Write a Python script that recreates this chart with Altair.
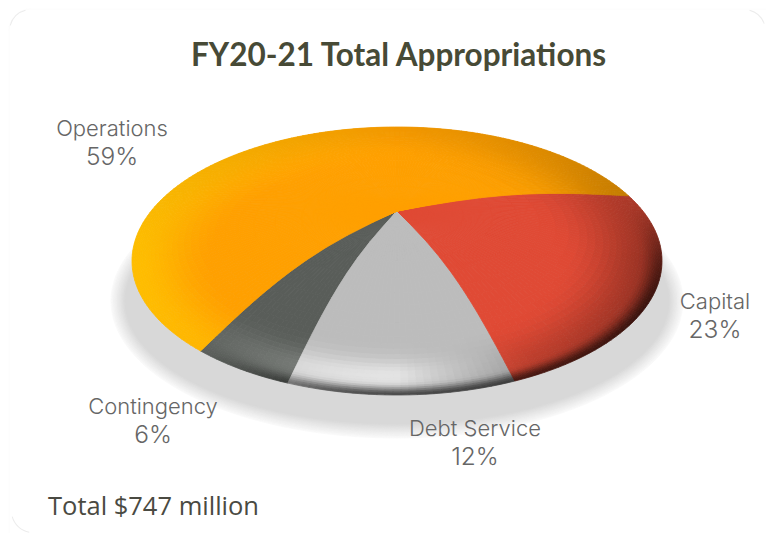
import math
import altair as alt
import numpy as np
import pandas as pd

alt.data_transformers.disable_max_rows()

# Budget shares, listed in screen order around the front of the pie
categories = ["Contingency", "Debt Service", "Capital", "Operations"]
shares = [6, 12, 23, 59]
base_colors = [(89, 93, 89), (188, 188, 188), (224, 74, 53), (255, 160, 0)]
title_text = "FY20-21 Total Appropriations"
total_text = "Total $747 million"
label_x = [153, 475, 715, 112]
label_y = [414, 436, 309, 136]

W, H = 766, 533
CX, CY, RX, RY = 397.0, 261.0, 265.0, 134.0
AX, AY = 397.0, 211.0
RINGS = [0, .12, .25, .36, .46, .54, .60, .65, .69, .72, .75, .78, .805, .83, .85, .87, .885, .90, .915,
         .93, .94, .95, .96, .968, .976, .984, .992, 1.0]
STEP = 1.5


def smooth(a, b, v):
    u = min(max((v - a) / (b - a), 0.0), 1.0)
    return u * u * (3 - 2 * u)


def rim_angle(theta):
    """Turn a disc angle (0 = front) into the angle on the tilted ellipse."""
    th = (theta + 180.0) % 360.0 - 180.0
    k = np.interp(th, [-180, -43.2, -21.6, 21.6, 104.4, 180], [1.2, 1.12, 1.13, 1.23, 1.32, 1.2])
    r = math.radians(th)
    return 2 * math.atan2(k * math.sin(r / 2), math.cos(r / 2))


def project(t, theta):
    phi = rim_angle(theta)
    rx, ry = CX + RX * math.sin(phi), CY + RY * math.cos(phi)
    dome = (11.5 + 6 * math.cos(phi)) * math.sin(math.pi * t)
    return AX + (rx - AX) * t, AY + (ry - AY) * t - dome


def shade(base, x, y):
    """Colour of the bevelled surface at a screen position."""
    nxr, nyr = (x - CX) / RX, (y - CY) / RY
    rho = max(math.hypot(nxr, nyr), 1e-6)
    nx, ny = nxr / rho, nyr / rho
    d = 0.55 * nx + 0.85 * ny
    rim = smooth(0.90, 1.0, rho) ** 1.4 * smooth(0.1, 0.85, d)
    side = max(nx, 0) * smooth(0.62, 1.0, rho) * 0.34 * (1 - 0.6 * max(-ny, 0))
    top = max(-ny, 0) * smooth(0.78, 1.0, rho) * 0.05
    keep = (1 - 0.62 * rim) * (1 - side) * (1 - top)
    bump = math.exp(-((rho - 0.86) / 0.12) ** 2) * max(ny, 0) ** 3
    glow = 40 * bump * max(1 - 1.7 * max(nx, 0), 0) * (1 - 0.3 * max(nx, 0))
    warm = 30 * smooth(0.68, 1.0, rho) * max(-nx, 0)
    r, g, b = base
    is_orange = base[2] == 0
    out = (
        (r + glow) * keep,
        (g + (warm if is_orange else glow)) * keep,
        (b + (0 if is_orange else glow)) * keep,
    )
    return "#%02x%02x%02x" % tuple(int(min(max(c, 0), 255)) for c in out)


# Surface mesh: every slice spans the angle its share gives it
rows = []
cell = 0
start = -(shares[0] + shares[1] / 2) * 3.6
for name, share, base in zip(categories, shares, base_colors):
    end = start + share * 3.6
    n = max(int(round((end - start) / STEP)), 1)
    angles = np.linspace(start, end, n + 1)
    for t0, t1 in zip(RINGS[:-1], RINGS[1:]):
        for a0, a1 in zip(angles[:-1], angles[1:]):
            corners = [project(t0, a0), project(t1, a0), project(t1, a1), project(t0, a1)]
            mx = sum(c[0] for c in corners) / 4
            my = sum(c[1] for c in corners) / 4
            color = shade(base, mx, my)
            for i, (px, py) in enumerate(corners):
                rows.append({"x": round(px, 2), "y": round(py, 2), "cell": cell, "i": i, "c": color})
            cell += 1
    start = end

# Soft drop shadow: nested ellipses, lightest on the outside
shadow_rows = []
steps = 12
for s in range(steps):
    grow = 7 - 14 * s / (steps - 1)
    level = int(253 - (253 - 216) * (s + 1) / steps)
    color = "#%02x%02x%02x" % (level, level, level)
    for i in range(140):
        a = 2 * math.pi * i / 140
        shadow_rows.append({
            "x": round(397 + (279 + grow) * math.cos(a), 1),
            "y": round(301 + (130 + grow) * math.sin(a), 1),
            "cell": s, "i": i, "c": color,
        })

x_scale = alt.Scale(domain=[0, W], range=[0, W], nice=False, zero=False)
y_scale = alt.Scale(domain=[0, H], range=[0, H], nice=False, zero=False)
X = alt.X("x:Q", scale=x_scale, axis=None)
Y = alt.Y("y:Q", scale=y_scale, axis=None)


def polygons(frame):
    return alt.Chart(frame).mark_line(interpolate="linear-closed", strokeWidth=0.8).encode(
        x=X, y=Y,
        order=alt.Order("i:Q"),
        detail="cell:N",
        fill=alt.Fill("c:N", scale=None),
        stroke=alt.Stroke("c:N", scale=None),
    )


card = alt.Chart(pd.DataFrame({"x": [9], "x2": [790], "y": [9], "y2": [560]})).mark_rect(
    fill="#ffffff", stroke="#fcfcfc", strokeWidth=1, cornerRadius=22
).encode(x=X, x2="x2:Q", y=Y, y2="y2:Q")

# Faint worn corners of the card
corner_x = [31, 33, 744]
corner_y = [31, 511, 31]
corner_from = [285, 190, 15]
corner_to = [345, 255, 70]
corners_df = pd.DataFrame({
    "x": corner_x, "y": corner_y,
    "a": [math.radians(v) for v in corner_from],
    "b": [math.radians(v) for v in corner_to],
})
corners = alt.Chart(corners_df).mark_arc(radius=22, radius2=21, color="#ececec").encode(
    x=X, y=Y, theta=alt.Theta("a:Q", scale=None), theta2="b:Q"
)

title = alt.Chart(pd.DataFrame({"x": [398.5], "y": [66], "t": [title_text]})).mark_text(
    font="Lato", fontWeight="bold", fontSize=31.5, color="#474a36",
    align="center", baseline="alphabetic"
).encode(x=X, y=Y, text="t:N")

names = pd.DataFrame({"x": label_x, "y": label_y, "t": categories})
values = pd.DataFrame({
    "x": label_x,
    "y": [v + 29 for v in label_y],
    "t": [f"{s}%" for s in shares],
})
label_style = dict(font="Inter", fontWeight=300, color="#666666", align="center", baseline="alphabetic")
name_text = alt.Chart(names).mark_text(fontSize=22, **label_style).encode(x=X, y=Y, text="t:N")
value_text = alt.Chart(values).mark_text(fontSize=24.5, **label_style).encode(x=X, y=Y, text="t:N")

total = alt.Chart(pd.DataFrame({"x": [48], "y": [515], "t": [total_text]})).mark_text(
    font="Open Sans", fontSize=25.5, color="#4a4a42", align="left", baseline="alphabetic"
).encode(x=X, y=Y, text="t:N")

chart = alt.layer(
    card, corners, polygons(pd.DataFrame(shadow_rows)), polygons(pd.DataFrame(rows)),
    title, name_text, value_text, total,
).properties(
    width=W, height=H, padding=0, autosize=alt.AutoSizeParams(type="none"), background="#ffffff"
).configure_view(stroke=None)

chart.save("out.html", embed_options={"renderer": "svg", "actions": False})
